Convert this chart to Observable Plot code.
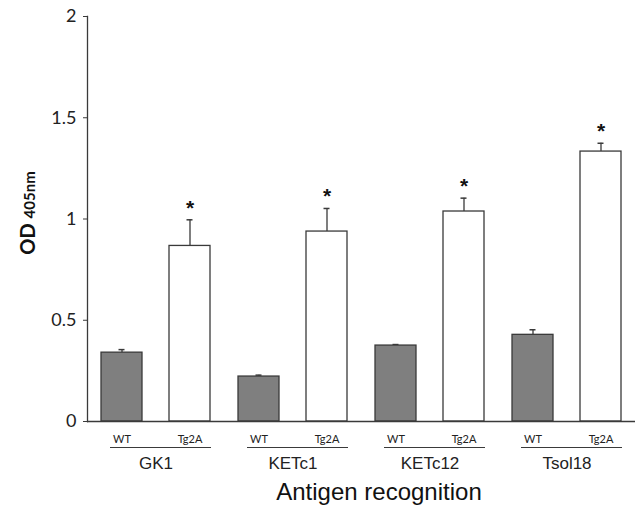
<!DOCTYPE html>
<html>
<head>
<meta charset="utf-8">
<script src="https://cdn.jsdelivr.net/npm/d3@7"></script>
<script src="https://cdn.jsdelivr.net/npm/@observablehq/plot@0.6"></script>
<style>
  html, body { margin: 0; padding: 0; background: #fff; }
  #chart svg { display: block; }
</style>
</head>
<body>
<div id="chart"></div>
<script>
const antigens = ["GK1", "KETc1", "KETc12", "Tsol18"];
const genotypes = ["WT", "Tg2A"];
const wtMeans = [0.34, 0.222, 0.375, 0.428];
const wtErrors = [0.015, 0.007, 0.005, 0.025];
const tgMeans = [0.867, 0.938, 1.037, 1.333];
const tgErrors = [0.129, 0.114, 0.066, 0.041];
const significant = [true, true, true, true];
const yTicks = [0, 0.5, 1, 1.5, 2];
const yLabelMain = "OD";
const yLabelSub = "405nm";
const xTitle = "Antigen recognition";

const data = [];
antigens.forEach((a, i) => {
  data.push({antigen: a, genotype: "WT", value: wtMeans[i], upper: wtMeans[i] + wtErrors[i], sig: false});
  data.push({antigen: a, genotype: "Tg2A", value: tgMeans[i], upper: tgMeans[i] + tgErrors[i], sig: significant[i]});
});

const stroke = "#3a3a3a";
const arial = "Liberation Sans, Arial, sans-serif";
const chart = Plot.plot({
  width: 637,
  height: 507,
  marginLeft: 86,
  marginRight: 1,
  marginTop: 16,
  marginBottom: 86,
  style: {background: "#fff", color: "#222"},
  fx: {domain: antigens, padding: 0},
  x: {domain: genotypes, paddingInner: 0.39, paddingOuter: 0.195},
  y: {domain: [0, 2]},
  color: {domain: genotypes, range: ["#7f7f7f", "#ffffff"]},
  marks: [
    Plot.axisY({ticks: yTicks, tickFormat: d => String(d), tickSize: 4, tickPadding: 7, fontSize: 18, fontFamily: "Lato", label: null, stroke: stroke, color: "#222"}),
    Plot.axisX({anchor: "bottom", tickSize: 0, tickPadding: 14, fontSize: 11, fontFamily: "Lato", label: null}),
    Plot.axisFx({anchor: "bottom", tickSize: 0, tickPadding: 35, fontSize: 17, fontFamily: arial, label: null}),
    Plot.frame({anchor: "left", facetAnchor: "left", stroke: stroke, strokeWidth: 1.3}),
    Plot.ruleX(data, {fx: "antigen", x: "genotype", y1: "value", y2: "upper", stroke: stroke, strokeWidth: 1.3}),
    Plot.tickY(data, {fx: "antigen", x: "genotype", y: "upper", stroke: stroke, strokeWidth: 1.5, insetLeft: 17.5, insetRight: 17.5}),
    Plot.barY(data, {fx: "antigen", x: "genotype", y: "value", fill: "genotype", stroke: stroke, strokeWidth: 1.3}),
    Plot.ruleY([0], {stroke: stroke, strokeWidth: 1.3}),
    Plot.ruleY([0], {dy: 26, insetLeft: 23, insetRight: 13, stroke: stroke, strokeWidth: 1.2}),
    Plot.text(data.filter(d => d.sig), {fx: "antigen", x: "genotype", y: "upper", text: () => "*", fontSize: 21, fontWeight: "bold", fontFamily: arial, lineAnchor: "bottom", dy: -5, fill: "#111"})
  ]
});

const svg = d3.select(chart);
svg.append("text")
  .attr("x", 379).attr("y", 500)
  .attr("text-anchor", "middle")
  .attr("font-family", arial)
  .attr("font-size", 24)
  .attr("fill", "#111")
  .text(xTitle);
const yl = svg.append("text")
  .attr("transform", "translate(35,213) rotate(-90)")
  .attr("text-anchor", "middle")
  .attr("font-family", "Lato, sans-serif")
  .attr("font-weight", "bold")
  .attr("fill", "#111");
yl.append("tspan").attr("font-size", 20).text(yLabelMain);
yl.append("tspan").attr("font-size", 15).attr("dx", 5).text(yLabelSub);

document.getElementById("chart").appendChild(chart);
</script>
</body>
</html>
